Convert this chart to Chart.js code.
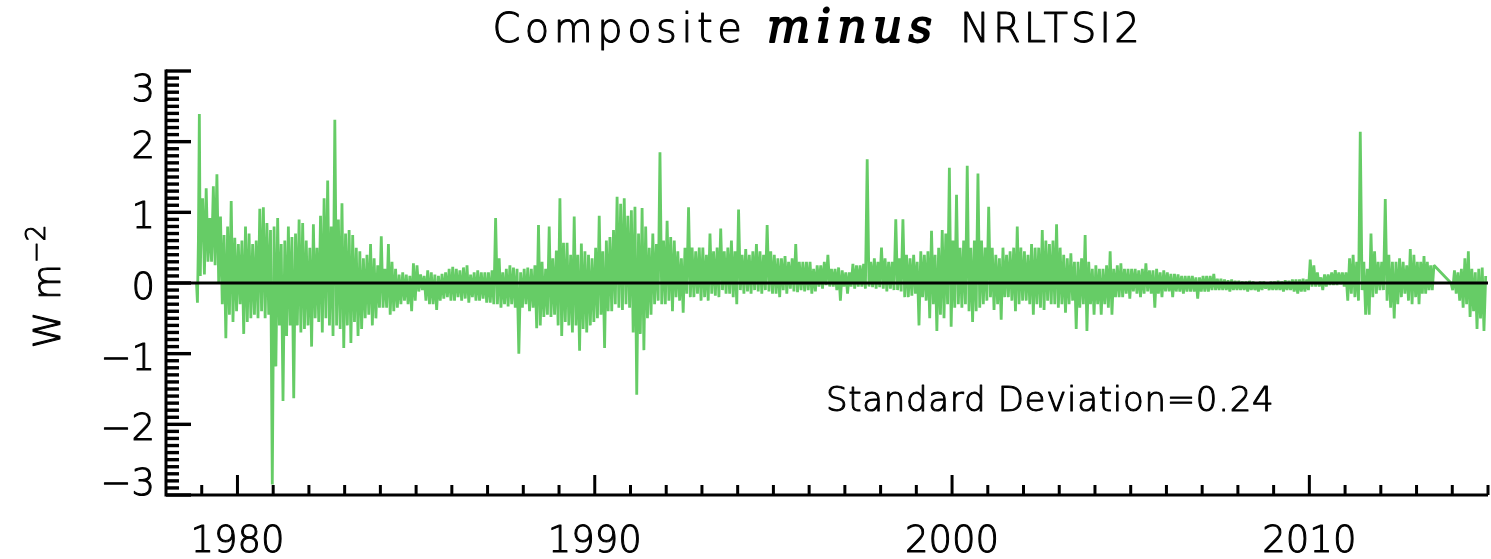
<!DOCTYPE html>
<html>
<head>
<meta charset="utf-8">
<script src="https://cdn.jsdelivr.net/npm/chart.js@4.4.1/dist/chart.umd.min.js"></script>
<style>
  html, body { margin: 0; padding: 0; background: #fff; }
  canvas { display: block; }
</style>
</head>
<body>
<canvas id="diffChart" width="1491" height="559"></canvas>
<script>
// record span in decimal years, with one data gap late in 2013
const seriesStart = 1978.84;
const gapStart = 2013.51;
const gapEnd = 2013.94;
const seriesEnd = 2014.96;

// composite minus NRLTSI2 (W m^-2), per calendar year, alternating highs and lows
const d1978 = [0.0, -0.28, 0.6, 2.39, 0.1, 1.0];
const d1979 = [1.2, 0.12, 1.34, 0.3, 0.92, 0.3, 1.37, 0.25, 1.54, 0.0, 0.94, -0.3, 0.68, -0.78, 0.8, -0.45, 1.16, -0.55, 0.64, -0.4];
const d1980 = [0.55, -0.3, 0.6, -0.72, 0.8, -0.55, 0.7, -0.5, 0.55, -0.45, 0.6, -0.5, 1.05, -0.4, 1.07, -0.5, 0.85, -0.45, 0.75, -2.85];
const d1981 = [0.8, -1.18, 0.92, -0.6, 0.55, -1.67, 0.6, -0.75, 0.8, -0.6, 0.65, -1.63, 0.7, -0.6, 0.9, -0.7, 0.85, -0.65, 0.6, -0.6];
const d1982 = [0.5, -0.9, 0.83, -0.5, 0.5, -0.55, 0.95, -0.7, 1.2, -0.5, 1.45, -0.6, 0.8, -0.75, 2.31, -0.6, 0.9, -0.65, 1.13, -0.92];
const d1983 = [0.7, -0.6, 0.75, -0.85, 0.68, -0.55, 0.5, -0.75, 0.45, -0.65, 0.35, -0.5, 0.4, -0.45, 0.55, -0.6, 0.35, -0.5, 0.25, -0.35];
const d1984 = [0.66, -0.35, 0.2, -0.35, 0.55, -0.45, 0.3, -0.4, 0.2, -0.35, 0.12, -0.3, 0.15, -0.25, 0.12, -0.3, 0.1, -0.4, 0.28, -0.25];
const d1985 = [0.25, -0.12, 0.12, -0.1, 0.1, -0.25, 0.18, -0.3, 0.15, -0.3, 0.12, -0.38, 0.1, -0.25, 0.13, -0.22, 0.15, -0.2, 0.2, -0.25];
const d1986 = [0.23, -0.25, 0.2, -0.2, 0.18, -0.25, 0.22, -0.22, 0.25, -0.28, 0.12, -0.2, 0.15, -0.25, 0.18, -0.25, 0.15, -0.22, 0.15, -0.28];
const d1987 = [0.15, -0.28, 0.18, -0.3, 0.92, -0.3, 0.35, -0.35, 0.15, -0.3, 0.2, -0.33, 0.25, -0.3, 0.22, -0.35, 0.2, -1.0, 0.15, -0.35];
const d1988 = [0.2, -0.3, 0.22, -0.4, 0.2, -0.35, 0.25, -0.64, 0.82, -0.6, 0.3, -0.48, 0.2, -0.45, 0.8, -0.48, 0.35, -0.45, 0.46, -0.6];
const d1989 = [1.2, -0.75, 0.57, -0.55, 0.57, -0.6, 0.4, -0.7, 0.94, -0.6, 0.4, -0.96, 0.56, -0.65, 0.45, -0.7, 0.4, -0.6, 0.35, -0.55];
const d1990 = [0.5, -0.5, 0.95, -0.45, 0.45, -0.92, 0.6, -0.4, 0.65, -0.4, 0.75, -0.3, 1.22, -0.35, 1.12, -0.38, 1.2, -0.3, 0.95, -0.35];
const d1991 = [1.03, -0.7, 1.08, -1.58, 0.7, -0.72, 1.06, -0.95, 0.8, -0.5, 0.5, -0.45, 0.7, -0.3, 0.55, -0.25, 1.85, -0.3, 0.6, -0.3];
const d1992 = [0.88, -0.25, 0.65, -0.4, 0.6, -0.2, 0.45, -0.25, 0.35, -0.42, 0.5, -0.15, 1.07, -0.2, 0.5, -0.2, 0.45, -0.15, 0.5, -0.25];
const d1993 = [0.5, -0.2, 0.4, -0.25, 0.7, -0.15, 0.45, -0.18, 0.5, -0.2, 0.77, -0.1, 0.45, -0.15, 0.5, -0.15, 0.6, -0.2, 0.45, -0.3];
const d1994 = [1.04, -0.1, 0.4, -0.15, 0.48, -0.12, 0.4, -0.15, 0.45, -0.1, 0.55, -0.12, 0.45, -0.15, 0.4, -0.1, 0.82, -0.12, 0.45, -0.15];
const d1995 = [0.4, -0.15, 0.35, -0.2, 0.35, -0.1, 0.38, -0.15, 0.3, -0.08, 0.35, -0.12, 0.55, -0.13, 0.3, -0.1, 0.3, -0.12, 0.3, -0.1];
const d1996 = [0.3, -0.15, 0.2, -0.12, 0.25, -0.05, 0.25, -0.08, 0.3, -0.03, 0.4, -0.05, 0.2, -0.05, 0.2, -0.1, 0.22, -0.25, 0.18, -0.05];
const d1997 = [0.15, -0.15, 0.15, -0.05, 0.27, -0.08, 0.25, -0.05, 0.25, -0.05, 0.27, -0.08, 1.75, -0.05, 0.3, -0.06, 0.35, -0.08, 0.3, -0.06];
const d1998 = [0.5, -0.08, 0.35, -0.12, 0.3, -0.08, 0.3, -0.1, 0.9, -0.1, 0.35, -0.12, 0.9, -0.2, 0.4, -0.2, 0.35, -0.18, 0.4, -0.15];
const d1999 = [0.3, -0.6, 0.45, -0.2, 0.4, -0.25, 0.45, -0.5, 0.74, -0.3, 0.4, -0.68, 0.5, -0.45, 0.75, -0.5, 0.7, -0.3, 1.63, -0.62];
const d2000 = [0.6, -0.35, 1.25, -0.3, 0.5, -0.35, 0.6, -0.3, 1.66, -0.4, 0.5, -0.55, 0.6, -0.4, 1.55, -0.35, 0.6, -0.3, 0.5, -0.25];
const d2001 = [1.08, -0.2, 0.5, -0.38, 0.4, -0.3, 0.35, -0.52, 0.5, -0.2, 0.4, -0.2, 0.45, -0.25, 0.5, -0.4, 0.8, -0.3, 0.5, -0.25];
const d2002 = [0.45, -0.25, 0.4, -0.3, 0.55, -0.45, 0.5, -0.3, 0.5, -0.35, 0.75, -0.38, 0.6, -0.25, 0.55, -0.3, 0.6, -0.3, 0.83, -0.35];
const d2003 = [0.5, -0.3, 0.4, -0.42, 0.35, -0.3, 0.42, -0.25, 0.3, -0.65, 0.3, -0.35, 0.35, -0.3, 0.68, -0.68, 0.3, -0.3, 0.2, -0.45];
const d2004 = [0.25, -0.3, 0.2, -0.45, 0.2, -0.3, 0.25, -0.35, 0.45, -0.45, 0.2, -0.2, 0.25, -0.2, 0.28, -0.2, 0.2, -0.15, 0.2, -0.22];
const d2005 = [0.2, -0.12, 0.2, -0.15, 0.18, -0.2, 0.2, -0.15, 0.28, -0.12, 0.18, -0.15, 0.18, -0.35, 0.2, -0.15, 0.15, -0.2, 0.18, -0.12];
const d2006 = [0.15, -0.12, 0.13, -0.2, 0.13, -0.12, 0.12, -0.12, 0.1, -0.15, 0.1, -0.12, 0.1, -0.12, 0.1, -0.12, 0.08, -0.22, 0.08, -0.12];
const d2007 = [0.1, -0.12, 0.1, -0.12, 0.1, -0.1, 0.13, -0.1, 0.06, -0.1, 0.06, -0.1, 0.05, -0.1, 0.04, -0.12, 0.05, -0.1, 0.03, -0.1];
const d2008 = [0.03, -0.1, 0.02, -0.1, 0.02, -0.12, 0.03, -0.1, 0.02, -0.1, 0.0, -0.12, 0.02, -0.1, 0.02, -0.08, 0.0, -0.1, 0.02, -0.1];
const d2009 = [0.02, -0.1, 0.03, -0.1, 0.02, -0.12, 0.04, -0.1, 0.03, -0.1, 0.05, -0.12, 0.05, -0.15, 0.05, -0.12, 0.06, -0.12, 0.05, -0.1];
const d2010 = [0.33, -0.05, 0.25, -0.05, 0.15, -0.05, 0.08, -0.1, 0.12, -0.05, 0.12, -0.03, 0.15, -0.03, 0.18, -0.03, 0.15, -0.02, 0.15, -0.05];
const d2011 = [0.15, -0.25, 0.35, -0.15, 0.4, -0.2, 0.3, -0.25, 2.14, -0.1, 0.3, -0.45, 0.2, -0.45, 0.7, -0.2, 0.45, -0.15, 0.3, -0.1];
const d2012 = [0.3, -0.1, 1.19, -0.25, 0.4, -0.35, 0.3, -0.5, 0.3, -0.3, 0.35, -0.2, 0.3, -0.15, 0.25, -0.25, 0.48, -0.3, 0.4, -0.2];
const d2013 = [0.3, -0.3, 0.3, -0.15, 0.38, -0.15, 0.3, -0.1, 0.25, -0.1, 0.25];
const d2014 = [0.0, -0.1, 0.18, -0.15, 0.15, -0.25, 0.2, -0.35, 0.35, -0.3, 0.45, -0.48, 0.2, -0.4, 0.15, -0.65, 0.2, -0.5, 0.22, -0.68, 0.1];

const years = [1978, 1979, 1980, 1981, 1982, 1983, 1984, 1985, 1986, 1987, 1988, 1989, 1990,
  1991, 1992, 1993, 1994, 1995, 1996, 1997, 1998, 1999, 2000, 2001, 2002, 2003, 2004,
  2005, 2006, 2007, 2008, 2009, 2010, 2011, 2012, 2013, 2014];
const yearData = [d1978, d1979, d1980, d1981, d1982, d1983, d1984, d1985, d1986, d1987, d1988,
  d1989, d1990, d1991, d1992, d1993, d1994, d1995, d1996, d1997, d1998, d1999, d2000, d2001,
  d2002, d2003, d2004, d2005, d2006, d2007, d2008, d2009, d2010, d2011, d2012, d2013, d2014];

// axes
const xMin = 1978, xMax = 2015;
const yMin = -3, yMax = 3;
const xLabelTicks = [1980, 1990, 2000, 2010];
const xTickLabels = ['1980', '1990', '2000', '2010'];
const yLabelTicks = [3, 2, 1, 0, -1, -2, -3];
const yTickLabels = ['3', '2', '1', '0', '\u22121', '\u22122', '\u22123'];
const zeroLine = [0, 0];
const stdDevText = 'Standard Deviation=0.24';

function buildSeries() {
    const pts = [];
    years.forEach((yr, k) => {
        const vals = yearData[k];
        const t0 = yr === 1978 ? seriesStart : (yr === 2014 ? gapEnd : yr);
        const t1 = yr === 2013 ? gapStart : (yr === 2014 ? seriesEnd : yr + 1);
        const step = (t1 - t0) / vals.length;
        vals.forEach((v, i) => pts.push({ x: t0 + (i + 0.5) * step, y: v }));
    });
    return pts;
}

const SANS = '"DejaVu Sans"';
const LIGHT = '200 ';

// thin font plus a hairline stroke, closer to the plotter lettering
function penText(ctx, text, x, y) {
    ctx.fillText(text, x, y);
    ctx.strokeText(text, x, y);
}

// IDL style frame: left/bottom axes with inward ticks, labels, titles
const idlFrame = {
    id: 'idlFrame',
    afterDraw(chart) {
        const { ctx, chartArea: area, scales } = chart;
        const xs = scales.x, ys = scales.y;
        ctx.save();
        ctx.strokeStyle = '#000';
        ctx.fillStyle = '#000';
        ctx.lineCap = 'butt';

        ctx.lineWidth = 3;
        ctx.beginPath();
        ctx.moveTo(area.left, area.top - 1.5);
        ctx.lineTo(area.left, area.bottom);
        ctx.lineTo(area.right, area.bottom);
        ctx.stroke();

        ctx.lineWidth = 3.4;
        for (let k = yMin * 10; k <= yMax * 10; k++) {
            const py = ys.getPixelForValue(k / 10);
            const len = k % 10 === 0 ? 25 : 13;
            ctx.beginPath();
            ctx.moveTo(area.left, py);
            ctx.lineTo(area.left + len, py);
            ctx.stroke();
        }
        ctx.lineWidth = 3;
        for (let yr = xMin + 1; yr <= xMax; yr++) {
            const px = xs.getPixelForValue(yr);
            const len = yr % 10 === 0 ? 20 : 10;
            ctx.beginPath();
            ctx.moveTo(px, area.bottom);
            ctx.lineTo(px, area.bottom - len);
            ctx.stroke();
        }

        ctx.lineWidth = 1;
        ctx.lineJoin = 'round';

        // tick labels
        ctx.font = LIGHT + '37px ' + SANS;
        ctx.textBaseline = 'alphabetic';
        ctx.textAlign = 'right';
        yLabelTicks.forEach((v, i) => {
            let base = ys.getPixelForValue(v) + 16;
            base = Math.min(Math.max(base, area.top + 30), area.bottom);
            penText(ctx, yTickLabels[i], area.left - 11, base);
        });
        ctx.textAlign = 'center';
        xLabelTicks.forEach((v, i) => {
            penText(ctx, xTickLabels[i], xs.getPixelForValue(v), area.bottom + 57);
        });

        // title with the italic word in the middle
        const parts = [
            { t: 'Composite', f: LIGHT + '40px ' + SANS, ls: 4.5, gap: 25, pen: 1 },
            { t: 'minus', f: 'italic 46px "DejaVu Serif"', ls: 6, gap: 28, pen: 1.8 },
            { t: 'NRLTSI2', f: LIGHT + '40px ' + SANS, ls: 3, gap: 0, pen: 1 }
        ];
        ctx.textAlign = 'left';
        let total = 0;
        parts.forEach(p => {
            ctx.font = p.f;
            ctx.letterSpacing = p.ls + 'px';
            p.w = ctx.measureText(p.t).width - p.ls;
            total += p.w + p.gap;
        });
        let tx = 816 - total / 2;
        parts.forEach(p => {
            ctx.font = p.f;
            ctx.letterSpacing = p.ls + 'px';
            ctx.lineWidth = p.pen;
            penText(ctx, p.t, tx, 42);
            tx += p.w + p.gap;
        });
        ctx.letterSpacing = '0px';
        ctx.lineWidth = 1;

        // y axis title, W m^-2
        ctx.save();
        ctx.translate(46, 287);
        ctx.rotate(-Math.PI / 2);
        ctx.font = LIGHT + '37px ' + SANS;
        ctx.textAlign = 'left';
        const main = 'W m';
        const mw = ctx.measureText(main).width;
        ctx.font = LIGHT + '26px ' + SANS;
        const sup = '\u22122';
        const sw = ctx.measureText(sup).width;
        const sx = -(mw + sw) / 2;
        ctx.font = LIGHT + '37px ' + SANS;
        penText(ctx, main, sx, 14);
        ctx.font = LIGHT + '26px ' + SANS;
        penText(ctx, sup, sx + mw + 1, -1);
        ctx.restore();

        // statistic note
        ctx.font = LIGHT + '34px ' + SANS;
        ctx.letterSpacing = '0.7px';
        ctx.textAlign = 'left';
        penText(ctx, stdDevText, xs.getPixelForValue(1996.47), 411);
        ctx.letterSpacing = '0px';
        ctx.restore();
    }
};

const chartCtx = document.getElementById('diffChart').getContext('2d');
new Chart(chartCtx, {
    type: 'line',
    data: {
        datasets: [{
            label: 'zero',
            data: [{ x: xMin, y: zeroLine[0] }, { x: xMax, y: zeroLine[1] }],
            borderColor: '#000',
            borderWidth: 3,
            pointRadius: 0
        }, {
            label: 'Composite minus NRLTSI2',
            data: buildSeries(),
            borderColor: '#66cc66',
            borderWidth: 2.8,
            borderJoinStyle: 'bevel',
            pointRadius: 0,
            tension: 0
        }]
    },
    options: {
        responsive: false,
        animation: false,
        devicePixelRatio: 1,
        parsing: false,
        normalized: true,
        layout: { padding: { left: 166, right: 3, top: 71, bottom: 64 } },
        scales: {
            x: { type: 'linear', min: xMin, max: xMax, display: false },
            y: { type: 'linear', min: yMin, max: yMax, display: false }
        },
        plugins: {
            legend: { display: false },
            tooltip: { enabled: false },
            title: { display: false }
        }
    },
    plugins: [idlFrame]
});
</script>
</body>
</html>
